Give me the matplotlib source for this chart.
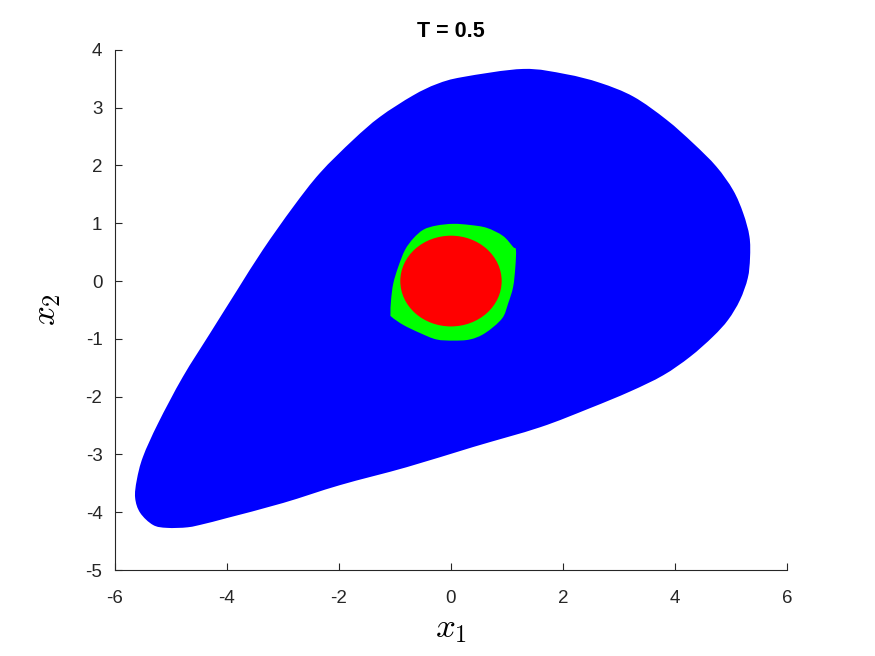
import matplotlib
matplotlib.use("Agg")
import matplotlib.pyplot as plt
from matplotlib.path import Path
from matplotlib.patches import PathPatch, Ellipse

# outer reachable set (blue), boundary
blue_x = [1.29, 0.21, -0.25, -0.68, -1.27, -1.75, -2.34, -2.82, -3.36, -3.82, -4.30, -4.79,
          -5.23, -5.50, -5.61, -5.64, -5.55, -5.32, -5.07, -4.70, -4.40, -4.00, -3.00,
          -1.98, -0.79, 0.40, 1.59, 2.48, 3.20, 3.79, 4.27, 4.68, 4.95, 5.16, 5.30,
          5.34, 5.33, 5.22, 5.04, 4.74, 4.33, 3.85, 3.26, 2.66, 2.05]
blue_y = [3.67, 3.53, 3.41, 3.21, 2.84, 2.44, 1.87, 1.28, 0.54, -0.16, -0.90, -1.66,
          -2.46, -3.04, -3.44, -3.75, -4.01, -4.22, -4.27, -4.26, -4.20, -4.10, -3.84,
          -3.53, -3.22, -2.87, -2.53, -2.20, -1.91, -1.63, -1.31, -0.96, -0.67, -0.33, 0.05,
          0.40, 0.77, 1.17, 1.57, 1.98, 2.38, 2.79, 3.19, 3.43, 3.58]

# middle set (green)
green_x = [-0.49, -0.26, 0.04, 0.34, 0.64, 0.93, 1.11, 1.16, 1.15, 1.11, 1.02, 0.91,
           0.61, 0.34, 0.04, -0.26, -0.55, -0.85, -1.06, -1.08, -1.07, -1.03, -0.94,
           -0.82, -0.67]
green_y = [0.89, 0.96, 0.99, 0.97, 0.92, 0.78, 0.59, 0.54, 0.25, -0.10, -0.39, -0.65,
           -0.90, -1.01, -1.03, -1.01, -0.90, -0.76, -0.62, -0.56, -0.33, -0.04, 0.25,
           0.54, 0.74]

# inner set (red ellipse)
red_center = (0.0, 0.0)
red_width = 1.81
red_height = 1.57


def smooth_closed_path(xs, ys):
    # closed Catmull-Rom outline through the points, drawn as cubic Bezier segments
    n = len(xs)
    verts = [(xs[0], ys[0])]
    codes = [Path.MOVETO]
    for i in range(n):
        p0 = (xs[i - 1], ys[i - 1])
        p1 = (xs[i], ys[i])
        p2 = (xs[(i + 1) % n], ys[(i + 1) % n])
        p3 = (xs[(i + 2) % n], ys[(i + 2) % n])
        c1 = (p1[0] + (p2[0] - p0[0]) / 6, p1[1] + (p2[1] - p0[1]) / 6)
        c2 = (p2[0] - (p3[0] - p1[0]) / 6, p2[1] - (p3[1] - p1[1]) / 6)
        verts += [c1, c2, p2]
        codes += [Path.CURVE4] * 3
    return Path(verts, codes)


plt.rcParams['font.family'] = ['Liberation Sans', 'DejaVu Sans']
plt.rcParams['mathtext.fontset'] = 'cm'
plt.rcParams['axes.unicode_minus'] = False

fig = plt.figure(figsize=(8.75, 6.56), dpi=100)
ax = fig.add_axes([0.1314, 0.131, 0.768, 0.793])

ax.add_patch(PathPatch(smooth_closed_path(blue_x, blue_y), facecolor=(0, 0, 1), edgecolor='none'))
ax.add_patch(PathPatch(smooth_closed_path(green_x, green_y), facecolor=(0, 1, 0), edgecolor='none'))
ax.add_patch(Ellipse(red_center, red_width, red_height, facecolor=(1, 0, 0), edgecolor='none'))

ax.set_xlim(-6, 6)
ax.set_ylim(-5, 4)
ax.set_xticks(range(-6, 7, 2))
ax.set_yticks(range(-5, 5))

axis_color = (0.15, 0.15, 0.15)
for side in ['top', 'right']:
    ax.spines[side].set_visible(False)
for side in ['left', 'bottom']:
    ax.spines[side].set_color(axis_color)
    ax.spines[side].set_linewidth(0.8)
ax.tick_params(direction='in', length=5, width=0.8, colors=axis_color, labelsize=13.5)
ax.tick_params(axis='x', pad=14)
ax.tick_params(axis='y', pad=9)

ax.set_xlabel(r'$x_1$', fontsize=25, color='black', labelpad=4)
ax.set_ylabel(r'$x_2$', fontsize=25, color='black', labelpad=16)
ax.set_title('T = 0.5', fontsize=15.5, fontweight='bold', pad=9)

fig.savefig('out.png', dpi=100, facecolor='white')
